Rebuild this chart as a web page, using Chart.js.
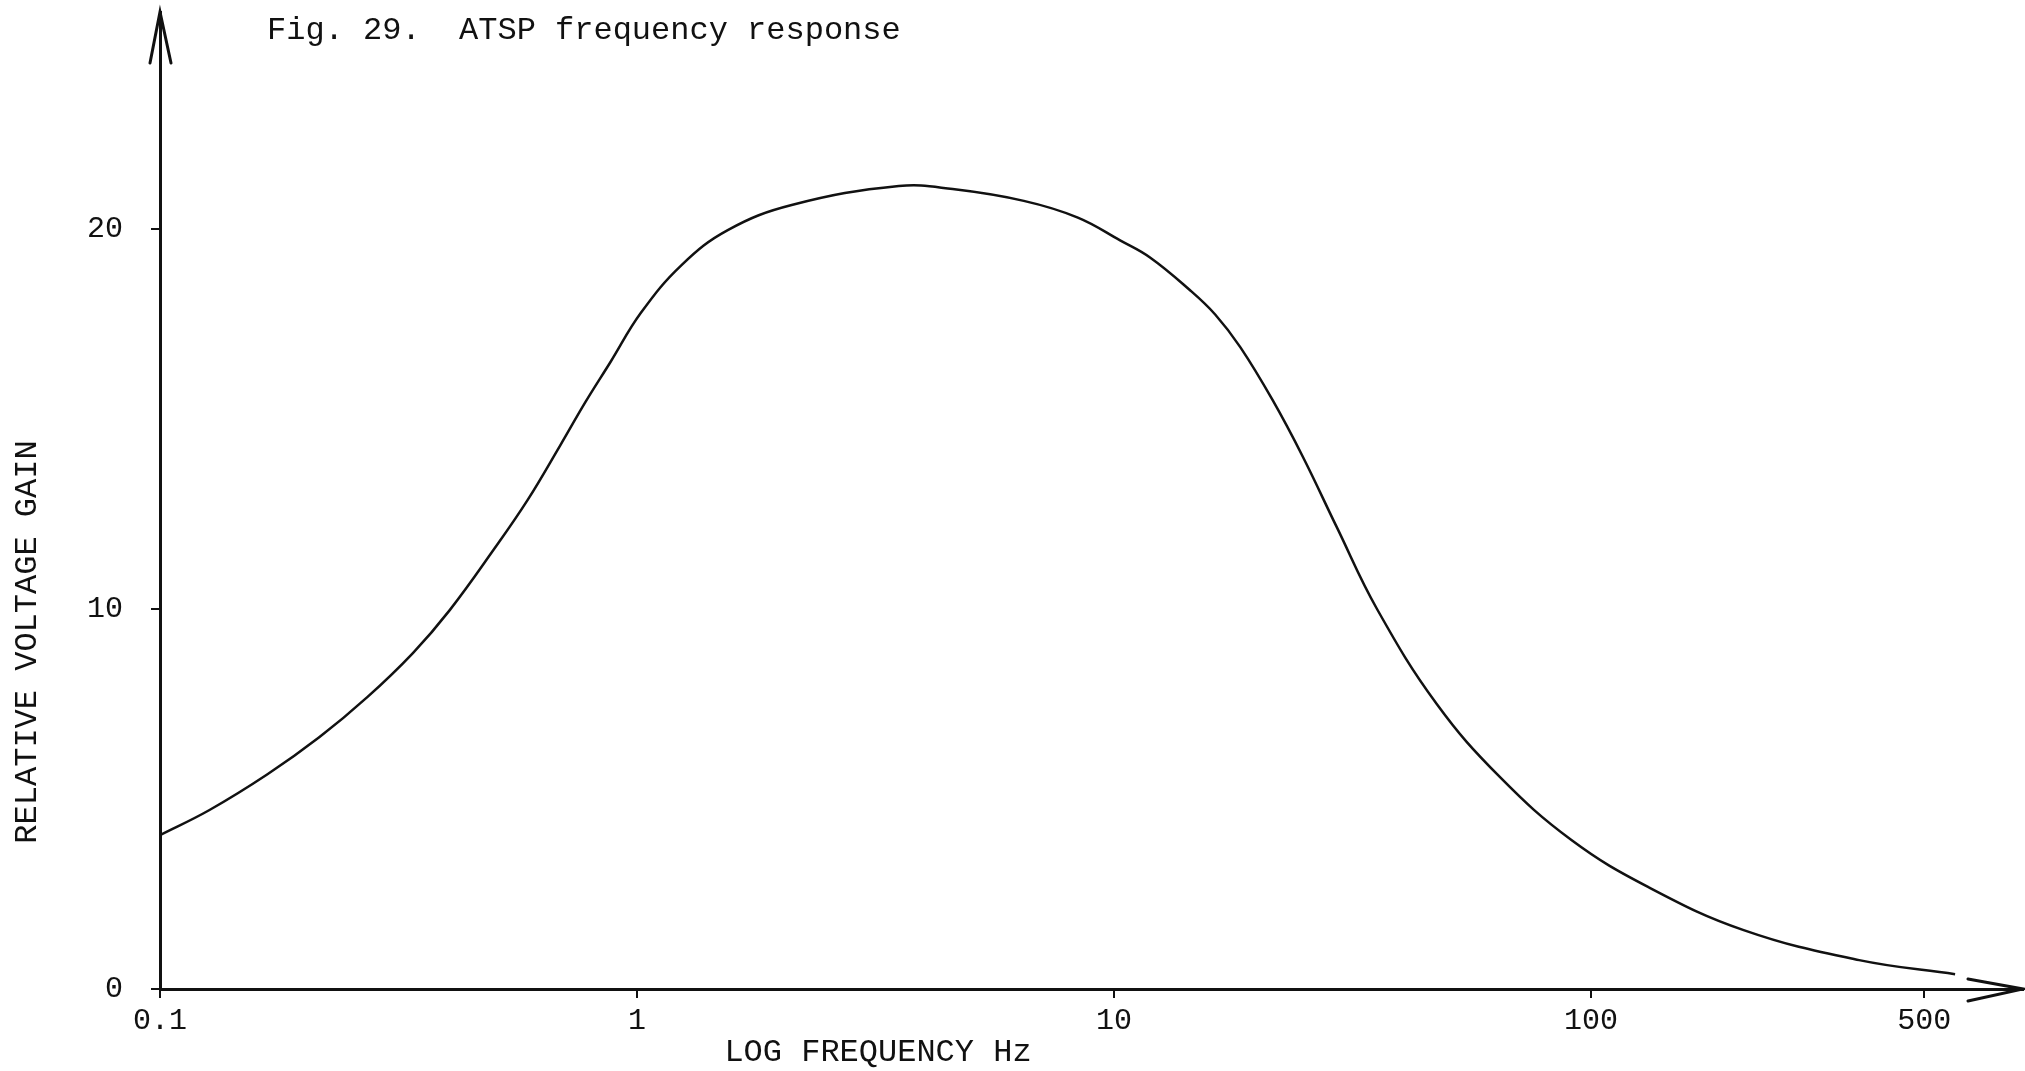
<!DOCTYPE html>
<html>
<head>
<meta charset="utf-8">
<title>ATSP frequency response</title>
<script src="https://cdn.jsdelivr.net/npm/chart.js"></script>
<style>
	body { margin: 0; background: #fff; }
	canvas { display: block; }
</style>
</head>
<body>
<canvas id="freqChart" width="2025" height="1071"></canvas>
<script>
// values
var freqHz = [0.1, 0.127, 0.168, 0.216, 0.272, 0.339, 0.405, 0.50, 0.59, 0.69, 0.78, 0.88, 1.02, 1.24, 1.55, 2.11, 3.54, 4.59, 6.47, 8.4, 10.3, 11.9, 14.4, 16.3, 18.4, 21.5, 24.9, 29.3, 35.6, 47.5, 64.4, 91, 132, 209, 365, 580];
var gain = [4.05, 4.71, 5.65, 6.63, 7.68, 8.84, 9.97, 11.55, 12.87, 14.3, 15.45, 16.5, 17.8, 19.05, 19.97, 20.63, 21.13, 21.05, 20.74, 20.3, 19.7, 19.25, 18.4, 17.75, 16.89, 15.5, 14.0, 12.16, 10.0, 7.5, 5.58, 3.92, 2.68, 1.55, 0.76, 0.39];

var xTicks = [0.1, 1, 10, 100, 500];
var yTicks = [0, 10, 20];

var figTitle = 'Fig. 29.  ATSP frequency response';
var xTitle = 'LOG FREQUENCY Hz';
var yTitle = 'RELATIVE VOLTAGE GAIN';

var ink = '#111';
var typeFont = '"Liberation Mono", "Courier New", monospace';

// arrows on the axes and the hand placed captions
var paperPlugin = {
	id: 'paper',
	afterDraw: function(chart) {
		var ctx = chart.ctx;
		var area = chart.chartArea;
		var axisY = chart.scales.y.getPixelForValue(0);

		ctx.save();
		ctx.strokeStyle = ink;
		ctx.lineWidth = 3;
		ctx.lineCap = 'round';

		// y axis arrow head
		ctx.beginPath();
		ctx.moveTo(area.left - 10, area.top + 51);
		ctx.lineTo(area.left, area.top);
		ctx.lineTo(area.left + 11, area.top + 51);
		ctx.stroke();

		// x axis arrow head
		ctx.beginPath();
		ctx.moveTo(area.right - 55, axisY - 10);
		ctx.lineTo(area.right, axisY);
		ctx.lineTo(area.right - 55, axisY + 12);
		ctx.stroke();

		ctx.fillStyle = ink;
		ctx.font = '32px ' + typeFont;
		ctx.textAlign = 'left';
		ctx.textBaseline = 'alphabetic';
		ctx.fillText(figTitle, 267, 39);

		ctx.textAlign = 'center';
		ctx.textBaseline = 'middle';
		ctx.fillText(xTitle, 878, 1053);

		ctx.translate(28, 642);
		ctx.rotate(-Math.PI / 2);
		ctx.fillText(yTitle, 0, 0);
		ctx.restore();
	}
};

var points = freqHz.map(function(f, i) {
	return { x: f, y: gain[i] };
});

var ctx = document.getElementById('freqChart');

window.freqChart = new Chart(ctx, {
	type: 'line',
	data: {
		datasets: [{
			data: points,
			borderColor: ink,
			borderWidth: 2.5,
			pointRadius: 0,
			fill: false,
			tension: 0.4
		}]
	},
	options: {
		responsive: false,
		animation: false,
		layout: {
			padding: { top: 12, right: 2, bottom: 0, left: 0 }
		},
		plugins: {
			legend: { display: false },
			tooltip: { enabled: false }
		},
		scales: {
			x: {
				type: 'logarithmic',
				min: 0.1,
				max: 805,
				afterBuildTicks: function(scale) {
					scale.ticks = xTicks.map(function(v) { return { value: v }; });
				},
				afterFit: function(scale) {
					scale.height = 82;
					scale.paddingLeft = 0;
					scale.paddingRight = 0;
				},
				border: { color: ink, width: 3 },
				grid: { drawOnChartArea: false, drawTicks: true, tickLength: 9, color: ink, lineWidth: 2 },
				ticks: {
					color: ink,
					padding: 5,
					maxRotation: 0,
					autoSkip: false,
					font: { family: typeFont, size: 30 },
					callback: function(value) { return String(value); }
				}
			},
			y: {
				min: 0,
				max: 25.71,
				afterBuildTicks: function(scale) {
					scale.ticks = yTicks.map(function(v) { return { value: v }; });
				},
				afterFit: function(scale) {
					scale.width = 160;
					scale.paddingTop = 0;
					scale.paddingBottom = 0;
				},
				border: { color: ink, width: 3 },
				grid: { drawOnChartArea: false, drawTicks: true, tickLength: 9, color: ink, lineWidth: 2 },
				ticks: {
					color: ink,
					padding: 28,
					font: { family: typeFont, size: 30 }
				}
			}
		}
	},
	plugins: [paperPlugin]
});
</script>
</body>
</html>
